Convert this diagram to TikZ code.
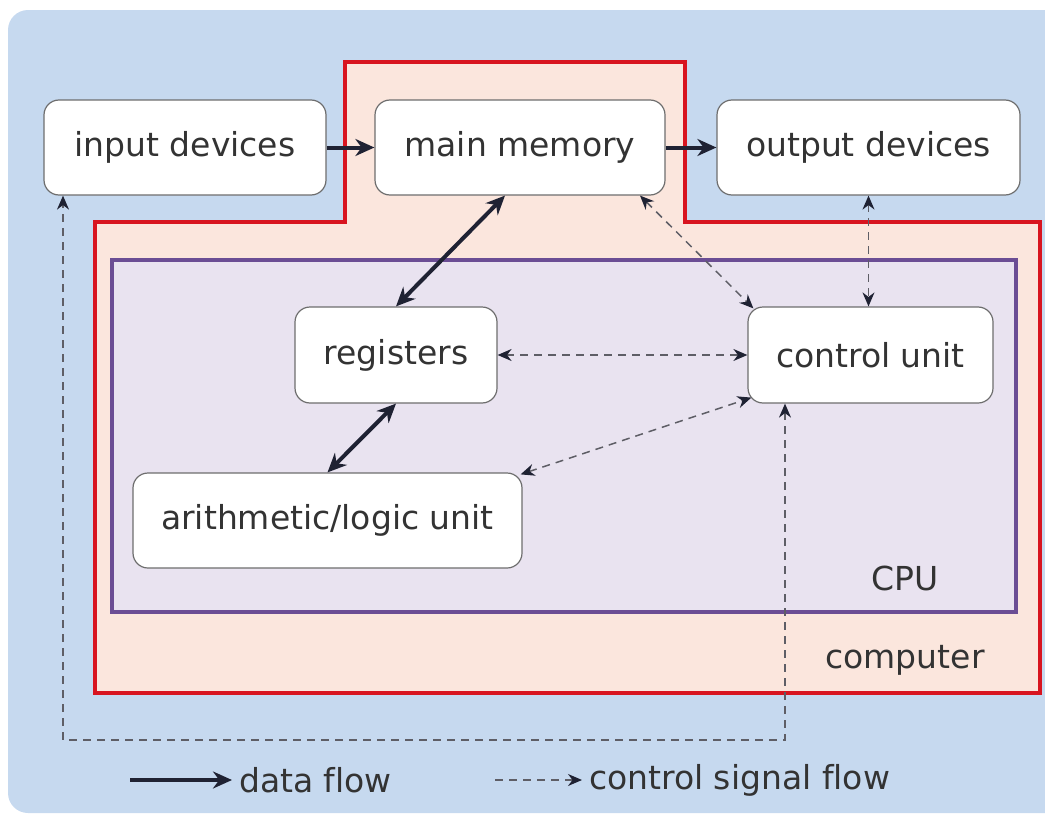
\documentclass[tikz,border=0pt]{standalone}
\usepackage{fontspec}
\setmainfont[Ligatures=NoCommon]{DejaVu Sans}
\usetikzlibrary{arrows.meta}

\definecolor{bgblue}{HTML}{C6D9EF}
\definecolor{compfill}{HTML}{FBE6DD}
\definecolor{compred}{HTML}{D8141F}
\definecolor{cpufill}{HTML}{E9E3F0}
\definecolor{cpupurple}{HTML}{6B4D94}
\definecolor{boxgray}{HTML}{6E6E6E}
\definecolor{txtgray}{HTML}{333333}
\definecolor{arrowdark}{HTML}{1F2233}
\definecolor{dashgray}{HTML}{5E5E66}

\tikzset{
  unit/.style={draw=boxgray, fill=white, rounded corners=7.5pt, line width=0.6pt,
    text=txtgray, font=\fontsize{16.5}{19}\selectfont, minimum height=47.5pt},
  lbl/.style={text=txtgray, font=\fontsize{16.5}{19}\selectfont},
  dataflow/.style={draw=arrowdark, line width=2pt},
  ctrlflow/.style={draw=dashgray, line width=0.75pt, dash pattern=on 4pt off 3pt},
  bighead/.style={arrows={-Stealth[length=9.5pt,width=8.5pt]}},
  bothbig/.style={arrows={Stealth[length=9.5pt,width=8.5pt]-Stealth[length=9.5pt,width=8.5pt]}},
  smallhead/.style={arrows={-Stealth[length=7pt,width=6pt,color=arrowdark]}},
  bothsmall/.style={arrows={Stealth[length=7pt,width=6pt,color=arrowdark]-Stealth[length=7pt,width=6pt,color=arrowdark]}}
}

\begin{document}
\begin{tikzpicture}[x=0.5pt,y=-0.5pt]
    \useasboundingbox (0,0) rectangle (1045,819);
    % background areas
    \fill[bgblue, rounded corners=10pt] (8,10) rectangle (1080,813);
    \draw[compred, fill=compfill, line width=2pt]
        (345,62) -- (685,62) -- (685,222) -- (1040,222) -- (1040,693)
        -- (95,693) -- (95,222) -- (345,222) -- cycle;
    \draw[cpupurple, fill=cpufill, line width=2pt] (112,260) rectangle (1016,612);
    \node[lbl] (cpulbl) at (905,578) {CPU};
    \node[lbl] (complbl) at (905,660) {computer};

    % units
    \node[unit, minimum width=141pt] (input) at (185,147.5) {input devices};
    \node[unit, minimum width=145pt] (mem) at (520,147.5) {main memory};
    \node[unit, minimum width=151.5pt] (output) at (868.5,147.5) {output devices};
    \node[unit, minimum width=101pt, minimum height=48pt] (reg) at (396,355) {registers};
    \node[unit, minimum width=122.5pt, minimum height=48pt] (ctrl) at (870.5,355) {control unit};
    \node[unit, minimum width=194.5pt] (alu) at (327.5,520.5) {arithmetic/logic unit};

    % data flow
    \draw[dataflow, bighead] (input.east) -- (mem.west);
    \draw[dataflow, bighead] (mem.east) -- (output.west);
    \draw[dataflow, bothbig] ([xshift=-7.5pt]mem.south) -- (reg.north);
    \draw[dataflow, bothbig] (reg.south) -- (alu.north);

    % control signals
    \coordinate (loopR) at (785,740);
    \coordinate (loopL) at (63,740);
    \draw[ctrlflow, bothsmall] ([xshift=60pt]mem.south) -- ([xshift=3pt,yshift=-1pt]ctrl.north west);
    \draw[ctrlflow, bothsmall] (output.south) -- (output.south |- ctrl.north);
    \draw[ctrlflow, bothsmall] (reg.east) -- (ctrl.west);
    \draw[ctrlflow, bothsmall] ([xshift=-1pt,yshift=-1pt]alu.north east) -- ([xshift=2pt,yshift=3pt]ctrl.south west);
    \draw[ctrlflow, bothsmall] (ctrl.south -| loopR) -- (loopR) -- (loopL) -- (input.south -| loopL);

    % legend
    \coordinate (keyA) at (130,780);
    \coordinate (keyB) at (232,780);
    \coordinate (keyC) at (495,780);
    \coordinate (keyD) at (582,780);
    \draw[dataflow, bighead] (keyA) -- (keyB);
    \node[lbl, anchor=west] (keydata) at (keyB) {data flow};
    \draw[ctrlflow, smallhead] (keyC) -- (keyD);
    \node[lbl, anchor=west] (keyctrl) at (keyD) {control signal flow};
\end{tikzpicture}
\end{document}
